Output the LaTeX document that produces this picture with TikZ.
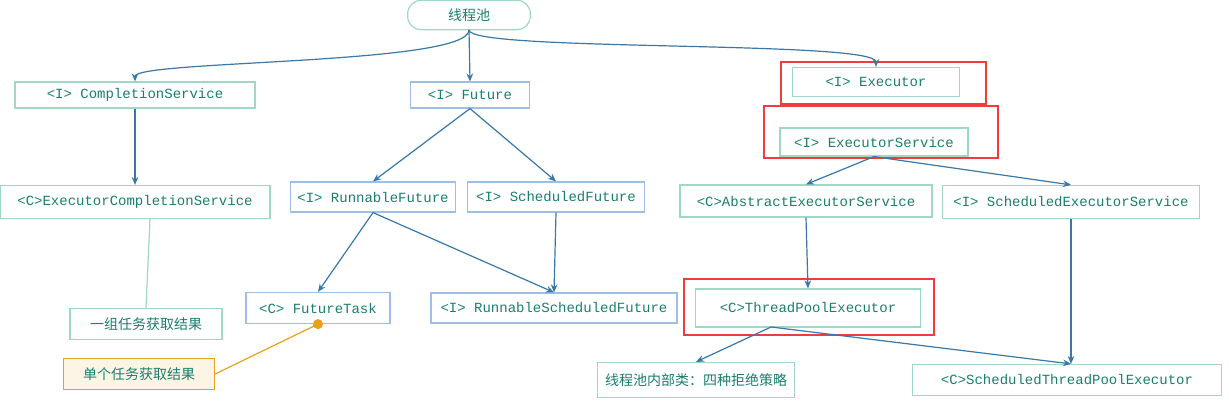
\documentclass[tikz,border=0pt]{standalone}
\usepackage{fontspec}
\setmainfont{Liberation Mono}
\newfontfamily\cjk{Noto Sans CJK SC}
\usetikzlibrary{arrows.meta}
\definecolor{gb}{HTML}{9FD9C5}
\definecolor{bb}{HTML}{9DBFE6}
\definecolor{tx}{HTML}{1A7F6E}
\definecolor{ar}{HTML}{3A78A8}
\definecolor{rd}{HTML}{F03C3C}
\definecolor{og}{HTML}{E8A020}
\begin{document}
\begin{tikzpicture}[x=0.75pt,y=-0.75pt,
  box/.style={draw=#1,fill=white,line width=0.9pt,text=tx,font=\fontsize{10.5}{12}\selectfont,inner sep=0pt,anchor=center},
  redbox/.style={draw=rd,line width=1.6pt},
  arr/.style={draw=ar,line width=0.9pt,-{Stealth[length=6pt,width=5pt]}}]
\useasboundingbox (0,0) rectangle (1229,403);
\fill[white] (0,0) rectangle (1229,403);
\newcommand\bx[6]{\node[box=#5,minimum width=#3*0.75pt,minimum height=#4*0.75pt] (#1) at (#2) {#6};}
\node[box=gb,rounded corners=10pt,minimum width=92pt,minimum height=22pt] (root) at (469,15) {\cjk 线程池};
\bx{cs}{135,95}{240}{26}{gb}{<I> CompletionService}
\bx{fu}{470,95}{119}{26}{bb}{<I> Future}
\bx{ex}{876,82}{167}{29}{gb}{<I> Executor}
\bx{es}{874,142}{188}{28}{gb}{<I> ExecutorService}
\bx{ecs}{135,202}{270}{33}{gb}{<C>ExecutorCompletionService}
\bx{rf}{373,197}{165}{30}{bb}{<I> RunnableFuture}
\bx{sf}{556,197}{177}{30}{bb}{<I> ScheduledFuture}
\bx{aes}{806,201}{252}{32}{gb}{<C>AbstractExecutorService}
\bx{ses}{1071,202}{257}{33}{gb}{<I> ScheduledExecutorService}
\bx{ft}{318,308}{144}{31}{bb}{<C> FutureTask}
\bx{rsf}{554,308}{246}{30}{bb}{<I> RunnableScheduledFuture}
\bx{tpe}{808,308}{225}{38}{gb}{<C>ThreadPoolExecutor}
\bx{grp}{146,324}{152}{31}{gb}{\cjk 一组任务获取结果}
\node[box=og,fill=og!12,minimum width=151*0.75pt,minimum height=31*0.75pt] (one) at (139,374) {\cjk 单个任务获取结果};
\bx{inn}{696,380}{197}{35}{gb}{\cjk 线程池内部类：四种拒绝策略}
\bx{stpe}{1067,380}{309}{31}{gb}{<C>ScheduledThreadPoolExecutor}
\draw[redbox] (781,62) rectangle (986,104);
\draw[redbox] (764,106) rectangle (998,158);
\draw[redbox] (684,279) rectangle (934,335);
\coordinate (rb) at (469,30);
\coordinate (tb) at (771,327);
\draw[arr] (rb) .. controls (469,65) and (135,60) .. (cs.north);
\draw[arr] (rb) .. controls (469,52) and (876,40) .. (ex.north);
\draw[arr] (rb) -- (fu.north);
\draw[arr] (cs.south) -- (ecs.north);
\draw[arr] (fu.south) -- (rf.north);
\draw[arr] (fu.south) -- (sf.north);
\draw[arr] (rf.south) -- (ft.north);
\draw[arr] (rf.south) -- (rsf.north);
\draw[arr] (sf.south) -- (rsf.north);
\draw[arr] (es.south) -- (aes.north);
\draw[arr] (es.south) -- (ses.north);
\draw[arr] (aes.south) -- (tpe.north);
\draw[arr] (ses.south) -- (ses.south|-stpe.north);
\draw[arr] (tb) -- (inn.north);
\draw[arr] (tb) -- (ses.south|-stpe.north);
\draw[gb,line width=0.9pt] (ecs.south)++(15,0) -- (grp.north);
\draw[og,line width=0.9pt] (ft.south) -- (one.east);
\fill[og] (ft.south) circle (5);
\end{tikzpicture}
\end{document}
